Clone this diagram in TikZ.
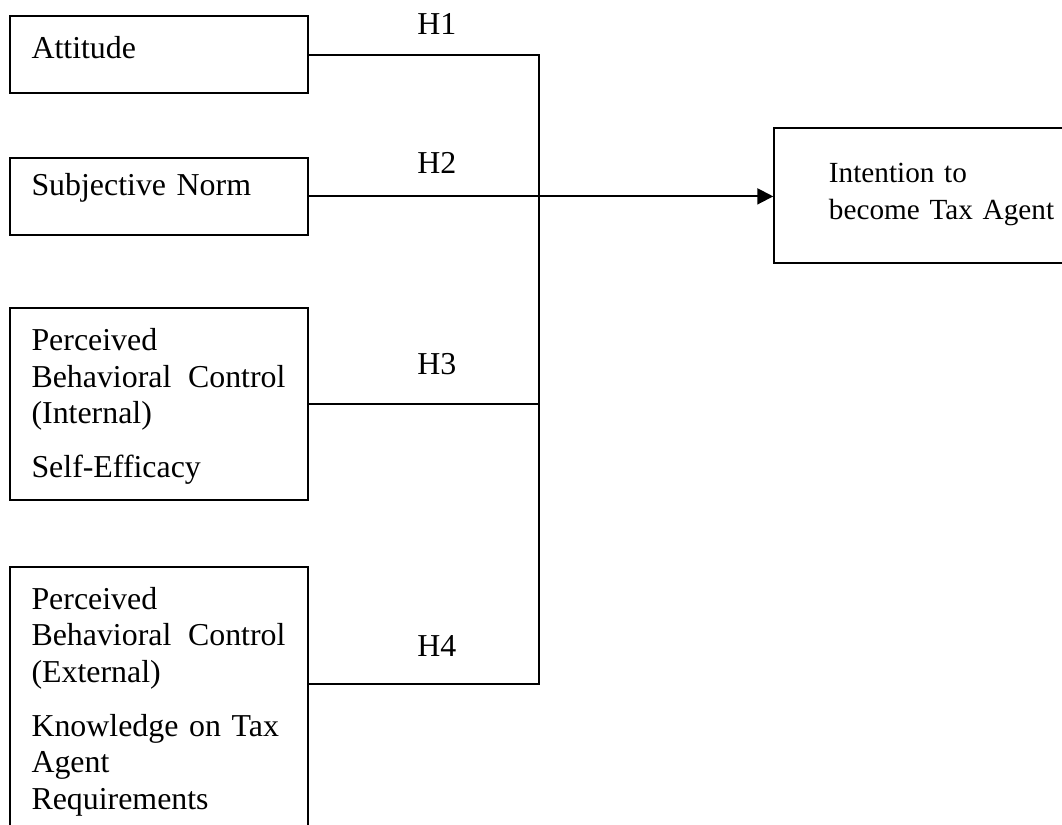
\documentclass[tikz,border=0pt]{standalone}
\usepackage{fontspec}
\setmainfont{Liberation Serif}
\usetikzlibrary{arrows.meta,positioning,calc}
\tikzset{
  factor/.style={draw,line width=0.75pt,inner sep=0pt,anchor=north west,
    minimum width=3.94cm},
  outcome/.style={draw,line width=0.75pt,inner sep=0pt,anchor=north west,
    minimum width=4.5cm,minimum height=1.79cm},
  boxtext/.style={inner sep=0pt,anchor=base west,text width=3.36cm,align=left,
    font=\fontsize{12}{13.7}\selectfont},
  hyp/.style={inner sep=0pt,anchor=base,font=\fontsize{12}{13.7}\selectfont},
  link/.style={line width=0.65pt},
  arrow/.style={-{Triangle[length=6pt,width=6pt]},line width=0.75pt}
}
\begin{document}
\begin{tikzpicture}
  \useasboundingbox (0,0) rectangle (14.05,-10.91);

  % predictors
  \node[factor,minimum height=1.02cm] (att) at (0.12,-0.2) {};
  \node[factor,minimum height=1.01cm] (sn) at (0.12,-2.08) {};
  \node[factor,minimum height=2.54cm] (pbci) at (0.12,-4.06) {};
  \node[factor,minimum height=3.84cm] (pbce) at (0.12,-7.49) {};

  \node[boxtext] (attTxt) at ([xshift=0.29cm,yshift=-0.57cm]att.north west) {Attitude};
  \node[boxtext] (snTxt) at ([xshift=0.29cm,yshift=-0.5cm]sn.north west) {Subjective Norm};
  \node[boxtext] (pbciTxt) at ([xshift=0.29cm,yshift=-0.58cm]pbci.north west)
    {Perceived\\ Behavioral\hfill Control\\ (Internal)\\[6.75pt] Self-Efficacy};
  \node[boxtext] (pbceTxt) at ([xshift=0.29cm,yshift=-0.57cm]pbce.north west)
    {Perceived\\ Behavioral\hfill Control\\ (External)\\[6.75pt] Knowledge on Tax\\ Agent\\ Requirements};

  % outcome
  \node[outcome] (intent) at (10.23,-1.68) {};
  \node[boxtext,text width=3.2cm,font=\fontsize{11}{13.7}\selectfont] (intentTxt)
    at ([xshift=0.73cm,yshift=-0.74cm]intent.north west)
    {Intention to\\ become Tax Agent};

  % paths
  \coordinate (bus) at (7.13,-9.05);
  \draw[link] (att.east) -- (att.east -| bus) -- (bus) -- (pbce.east |- bus);
  \draw[link] (pbci.east) -- (pbci.east -| bus);
  \draw[arrow] (sn.east) -- (intent.west |- sn.east);

  \node[hyp] (h1) at (5.78,-0.46) {H1};
  \node[hyp] (h2) at (5.78,-2.3) {H2};
  \node[hyp] (h3) at (5.78,-4.95) {H3};
  \node[hyp] (h4) at (5.78,-8.68) {H4};
\end{tikzpicture}
\end{document}
